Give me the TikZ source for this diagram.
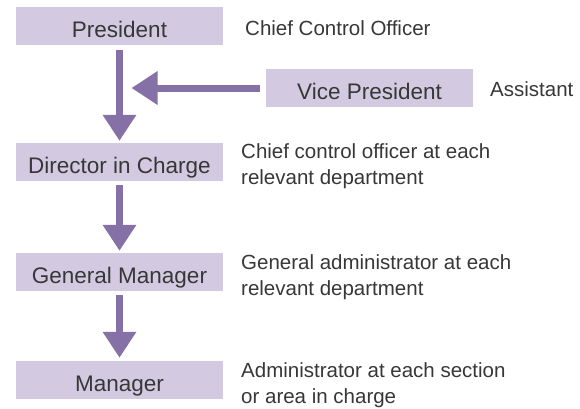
\documentclass[tikz,border=0pt]{standalone}
\usepackage{fontspec}
\setmainfont{Liberation Sans}
\usetikzlibrary{arrows.meta}
\definecolor{boxfill}{RGB}{211,202,226}
\definecolor{arrowcol}{RGB}{134,113,167}
\definecolor{textcol}{RGB}{55,55,55}

\tikzset{
  rankbox/.style={fill=boxfill, minimum width=207pt, minimum height=38pt, inner sep=0pt,
    text height=22.4pt, text depth=0pt, text=textcol, font=\fontsize{22.5}{26}\selectfont},
  duty/.style={anchor=west, align=left, inner sep=0pt, text=textcol,
    font=\fontsize{20.5}{26}\selectfont},
  flow/.style={draw=arrowcol, line width=7pt, -{Triangle[length=26pt,width=32pt]}, arrowcol}
}

\begin{document}
\begin{tikzpicture}[x=1pt, y=-1pt]
			\useasboundingbox (0,0) rectangle (580,408);
			\node[rankbox] (pres) at (119.5,26) {President};
			\node[rankbox] (vp) at (369.5,88) {Vice President};
			\node[rankbox] (dir) at (119.5,162) {Director in Charge};
			\node[rankbox] (gm) at (119.5,272) {General Manager};
			\node[rankbox] (mgr) at (119.5,380) {Manager};
			\node[duty] (presduty) at (245,28) {Chief Control Officer};
			\node[duty] (vpduty) at (490,89) {Assistant};
			\node[duty] (dirduty) at (241,166) {Chief control officer at each\\relevant department};
			\node[duty] (gmduty) at (241,277) {General administrator at each\\relevant department};
			\node[duty] (mgrduty) at (241,385) {Administrator at each section\\or area in charge};
			\draw[flow, shorten <=5pt, shorten >=2pt] (pres) -- (dir);
			\draw[flow, shorten <=6pt, shorten >=12pt] (vp.west) -- (vp.west -| pres.south);
			\draw[flow, shorten <=4pt, shorten >=2pt] (dir) -- (gm);
			\draw[flow, shorten <=4pt, shorten >=3pt] (gm) -- (mgr);
		\end{tikzpicture}
\end{document}
